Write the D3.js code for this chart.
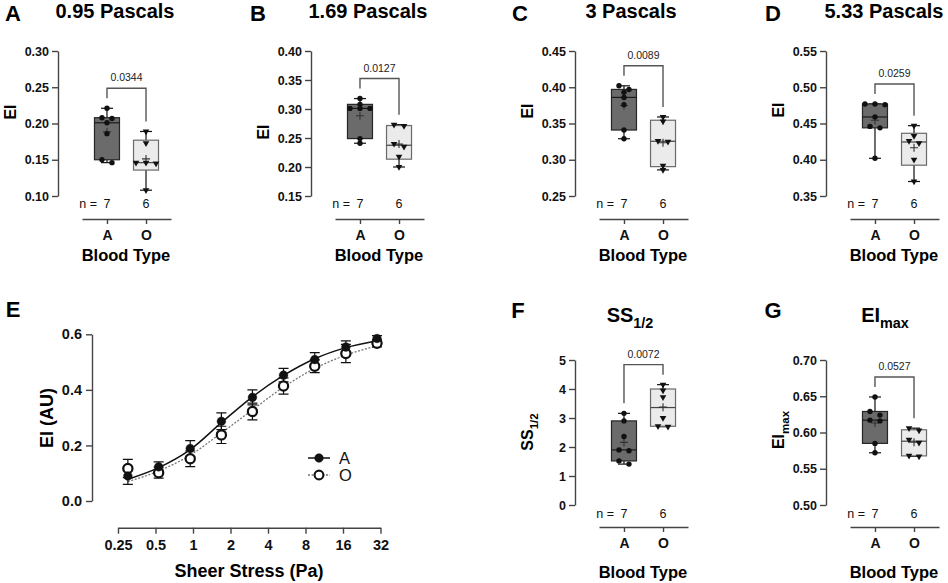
<!DOCTYPE html>
<html>
<head>
<meta charset="utf-8">
<script src="https://cdn.jsdelivr.net/npm/d3@7"></script>
<style>
body { margin: 0; background: #fff; }
svg { display: block; }
</style>
</head>
<body>
<script>
var FONT = "'Liberation Sans', Arial, Helvetica, sans-serif";
var width = 948, height = 583;

var svg = d3.select("body").append("svg")
    .attr("width", width)
    .attr("height", height)
    .attr("font-family", FONT);

// ---- data ----
var groups = ["A", "O"];
var groupN = [7, 6];

var ei095A = [0.221, 0.208, 0.207, 0.201, 0.186, 0.150, 0.146];
var ei095O = [0.189, 0.173, 0.146, 0.146, 0.145, 0.108];
var ei169A = [0.318, 0.308, 0.301, 0.301, 0.301, 0.249, 0.241];
var ei169O = [0.273, 0.271, 0.240, 0.235, 0.218, 0.200];
var ei3A = [0.402, 0.397, 0.393, 0.386, 0.376, 0.341, 0.329];
var ei3O = [0.359, 0.353, 0.326, 0.325, 0.292, 0.286];
var ei533A = [0.477, 0.477, 0.476, 0.459, 0.446, 0.444, 0.402];
var ei533O = [0.447, 0.433, 0.426, 0.423, 0.400, 0.370];
var ssHalfA = [3.16, 2.90, 2.36, 1.90, 1.87, 1.52, 1.41];
var ssHalfO = [4.15, 3.95, 3.72, 3.00, 2.72, 2.70];
var eiMaxA = [0.649, 0.629, 0.624, 0.617, 0.616, 0.585, 0.572];
var eiMaxO = [0.606, 0.603, 0.590, 0.586, 0.568, 0.567];

var pValues = ["0.0344", "0.0127", "0.0089", "0.0259", "0.0072", "0.0527"];

var ticks095 = [0.10, 0.15, 0.20, 0.25, 0.30];
var ticks169 = [0.15, 0.20, 0.25, 0.30, 0.35, 0.40];
var ticks3 = [0.25, 0.30, 0.35, 0.40, 0.45];
var ticks533 = [0.35, 0.40, 0.45, 0.50, 0.55];
var ticksSS = [0, 1, 2, 3, 4, 5];
var ticksMax = [0.50, 0.55, 0.60, 0.65, 0.70];

// panel E: elongation curve, mean +/- error
var shearStress = [0.3, 0.53, 0.95, 1.69, 3.0, 5.33, 9.49, 16.87, 30];
var eiMeanA = [0.090, 0.123, 0.189, 0.287, 0.373, 0.453, 0.509, 0.554, 0.585];
var eiErrA = [0.030, 0.018, 0.028, 0.030, 0.027, 0.024, 0.025, 0.022, 0.010];
var eiMeanO = [0.117, 0.102, 0.152, 0.238, 0.322, 0.414, 0.485, 0.531, 0.568];
var eiErrO = [0.033, 0.020, 0.028, 0.031, 0.030, 0.029, 0.023, 0.033, 0.013];
// fitted curves as they appear in the figure
var eiFitA = [0.078, 0.120, 0.185, 0.282, 0.375, 0.452, 0.512, 0.552, 0.577];
var eiFitO = [0.070, 0.108, 0.165, 0.245, 0.328, 0.410, 0.477, 0.525, 0.558];
var ssTicks = [0.25, 0.5, 1, 2, 4, 8, 16, 32];
var eiTicks = [0, 0.2, 0.4, 0.6];

// ---- layout ----
var topRow = {letterY: 21, titleY: 18, nY: 208, lineY: 219, btY: 261};
var botRow = {letterY: 318, titleY: 322, nY: 518, lineY: 527, btY: 578};

var boxPanels = [
    {letter: "A", letterX: 13, title: [["0.95 Pascals"]], titleX: 115, ylab: [["EI"]], labY: 112,
        ax: 58, y0: 51, y1: 196, domain: [0.10, 0.30], ticks: ticks095, fmt: ".2f",
        a: ei095A, o: ei095O, p: pValues[0], row: topRow},
    {letter: "B", letterX: 258, title: [["1.69 Pascals"]], titleX: 368, ylab: [["EI"]], labY: 132,
        ax: 311, y0: 51, y1: 196, domain: [0.15, 0.40], ticks: ticks169, fmt: ".2f",
        a: ei169A, o: ei169O, p: pValues[1], row: topRow},
    {letter: "C", letterX: 520, title: [["3 Pascals"]], titleX: 631, ylab: [["EI"]], labY: 111,
        ax: 575, y0: 51, y1: 196, domain: [0.25, 0.45], ticks: ticks3, fmt: ".2f",
        a: ei3A, o: ei3O, p: pValues[2], row: topRow},
    {letter: "D", letterX: 773, title: [["5.33 Pascals"]], titleX: 884, ylab: [["EI"]], labY: 110,
        ax: 826, y0: 51, y1: 196, domain: [0.35, 0.55], ticks: ticks533, fmt: ".2f",
        a: ei533A, o: ei533O, p: pValues[3], row: topRow},
    {letter: "F", letterX: 518, title: [["SS"], ["1/2", true]], titleX: 630, ylab: [["SS"], ["1/2", true]], labY: 432,
        ax: 575, y0: 360, y1: 505, domain: [0, 5], ticks: ticksSS, fmt: "d",
        a: ssHalfA, o: ssHalfO, p: pValues[4], row: botRow},
    {letter: "G", letterX: 773, title: [["EI"], ["max", true]], titleX: 885, ylab: [["EI"], ["max", true]], labY: 430,
        ax: 826, y0: 360, y1: 505, domain: [0.50, 0.70], ticks: ticksMax, fmt: ".2f",
        a: eiMaxA, o: eiMaxO, p: pValues[5], row: botRow}
];

function styleAxis(sel, fs) {
    sel.attr("font-family", FONT);
    sel.select(".domain").attr("stroke", "#444").attr("stroke-width", 1.4);
    sel.selectAll(".tick line").attr("stroke", "#444").attr("stroke-width", 1.4);
    sel.selectAll(".tick text")
        .attr("font-size", fs)
        .attr("font-weight", "bold")
        .attr("fill", "#111");
}

function richText(t, parts, size) {
    parts.forEach(function (p) {
        var ts = t.append("tspan").text(p[0]);
        if (p[1]) ts.attr("font-size", size * 0.72).attr("dy", size * 0.3);
    });
}

// GraphPad style quartiles, position (n+1)p
function quartile(sorted, p) {
    var n = sorted.length, pos = (n + 1) * p, lo = Math.floor(pos);
    if (lo < 1) return sorted[0];
    if (lo >= n) return sorted[n - 1];
    return sorted[lo - 1] + (pos - lo) * (sorted[lo] - sorted[lo - 1]);
}

// spread points that sit at nearly the same height
function swarm(vals, y) {
    var pts = vals.map(function (v) { return {v: v, py: y(v)}; })
        .sort(function (a, b) { return a.py - b.py; });
    var bins = [], cur = null;
    pts.forEach(function (p) {
        if (cur && p.py - cur[0].py <= 4) cur.push(p);
        else { cur = [p]; bins.push(cur); }
    });
    bins.forEach(function (b) {
        b.forEach(function (p, i) { p.dx = (i - (b.length - 1) / 2) * 10; });
    });
    return pts;
}

var triangle = d3.symbol().type(d3.symbolTriangle).size(19);

function boxPanel(s) {
    var row = s.row;
    var g = svg.append("g");
    var y = d3.scaleLinear().domain(s.domain).range([s.y1, s.y0]);
    var x = d3.scalePoint().domain(groups).range([s.ax + 24, s.ax + 113]).padding(0.64);

    g.append("g")
        .attr("transform", "translate(" + s.ax + ",0)")
        .call(d3.axisLeft(y).tickValues(s.ticks).tickFormat(d3.format(s.fmt))
            .tickSize(6).tickSizeOuter(0).tickPadding(3))
        .call(styleAxis, 12.5);

    g.append("g")
        .attr("transform", "translate(0," + row.lineY + ")")
        .call(d3.axisBottom(x).tickSize(5).tickSizeOuter(0).tickPadding(6))
        .call(styleAxis, 14);

    var sets = [
        {key: "A", vals: s.a, fill: "#6b6b6b", stroke: "#262626", med: "#1a1a1a", tri: false},
        {key: "O", vals: s.o, fill: "#ebebeb", stroke: "#6a6a6a", med: "#444", tri: true}
    ];

    sets.forEach(function (d) {
        var sorted = d.vals.slice().sort(d3.ascending);
        var q1 = quartile(sorted, 0.25), med = quartile(sorted, 0.5), q3 = quartile(sorted, 0.75);
        var mn = sorted[0], mx = sorted[sorted.length - 1], mean = d3.mean(sorted);
        var cx = x(d.key), bw = 25, cw = 12;
        var bg = g.append("g");

        bg.append("line").attr("x1", cx).attr("x2", cx).attr("y1", y(mn)).attr("y2", y(mx))
            .attr("stroke", "#111").attr("stroke-width", 1.2);
        [mn, mx].forEach(function (v) {
            bg.append("line").attr("x1", cx - cw / 2).attr("x2", cx + cw / 2)
                .attr("y1", y(v)).attr("y2", y(v))
                .attr("stroke", "#111").attr("stroke-width", 1.2);
        });
        bg.append("rect")
            .attr("x", cx - bw / 2).attr("width", bw)
            .attr("y", y(q3)).attr("height", y(q1) - y(q3))
            .attr("fill", d.fill).attr("stroke", d.stroke).attr("stroke-width", 1.2);
        bg.append("line").attr("x1", cx - bw / 2).attr("x2", cx + bw / 2)
            .attr("y1", y(med)).attr("y2", y(med))
            .attr("stroke", d.med).attr("stroke-width", 1.2);
        // mean
        bg.append("path")
            .attr("d", "M" + (cx - 4) + "," + y(mean) + "H" + (cx + 4) +
                "M" + cx + "," + (y(mean) - 4) + "V" + (y(mean) + 4))
            .attr("stroke", "#333").attr("stroke-width", 1.1);

        var pts = swarm(d.vals, y);
        if (d.tri) {
            bg.selectAll("path.pt").data(pts).enter().append("path")
                .attr("class", "pt")
                .attr("d", triangle)
                .attr("transform", function (p) {
                    return "translate(" + (cx + p.dx) + "," + p.py + ") rotate(180)";
                })
                .attr("fill", "#111");
        } else {
            bg.selectAll("circle").data(pts).enter().append("circle")
                .attr("cx", function (p) { return cx + p.dx; })
                .attr("cy", function (p) { return p.py; })
                .attr("r", 2.7)
                .attr("fill", "#111");
        }
    });

    // significance bracket
    var ya = y(d3.max(s.a)), yo = y(d3.max(s.o));
    var yTop = Math.min(ya, yo) - 20;
    g.append("path")
        .attr("d", "M" + x("A") + "," + (ya - 10) + "V" + yTop + "H" + x("O") + "V" + (yo - 10))
        .attr("fill", "none").attr("stroke", "#555").attr("stroke-width", 1.4);
    g.append("text")
        .attr("x", (x("A") + x("O")) / 2).attr("y", yTop - 7)
        .attr("text-anchor", "middle").attr("font-size", 10.5).attr("fill", "#222")
        .text(s.p);

    // n row
    g.append("text").attr("x", x("A") - 10).attr("y", row.nY)
        .attr("text-anchor", "end").attr("font-size", 12.5).attr("fill", "#111").text("n =");
    g.selectAll("text.n").data(groupN).enter().append("text")
        .attr("class", "n")
        .attr("x", function (d, i) { return x(groups[i]); })
        .attr("y", row.nY)
        .attr("text-anchor", "middle").attr("font-size", 12.5).attr("fill", "#111")
        .text(function (d) { return d; });

    // labels
    g.append("text").attr("x", s.letterX).attr("y", row.letterY)
        .attr("text-anchor", "middle").attr("font-size", 22).attr("font-weight", "bold")
        .text(s.letter);
    var t = g.append("text").attr("x", s.titleX).attr("y", row.titleY)
        .attr("text-anchor", "middle").attr("font-size", 20).attr("font-weight", "bold");
    richText(t, s.title, 20);
    var yl = g.append("text")
        .attr("transform", "translate(" + (s.ax - 42) + "," + s.labY + ") rotate(-90)")
        .attr("text-anchor", "middle").attr("font-size", 16).attr("font-weight", "bold");
    richText(yl, s.ylab, 16);
    g.append("text").attr("x", s.ax + 68).attr("y", row.btY)
        .attr("text-anchor", "middle").attr("font-size", 16.5).attr("font-weight", "bold")
        .text("Blood Type");
}

boxPanels.forEach(boxPanel);

// ---- panel E ----
function curvePanel() {
    var g = svg.append("g");
    var x = d3.scaleLog().base(2).domain([0.25, 32]).range([118, 380.5]);
    var y = d3.scaleLinear().domain([0, 0.6]).range([501, 334.3]);

    g.append("g").attr("transform", "translate(92,0)")
        .call(d3.axisLeft(y).tickValues(eiTicks).tickFormat(d3.format(".1f"))
            .tickSize(6).tickSizeOuter(0).tickPadding(4))
        .call(styleAxis, 14.5);
    g.append("g").attr("transform", "translate(0,527.7)")
        .call(d3.axisBottom(x).tickValues(ssTicks).tickFormat(function (d) { return String(d); })
            .tickSize(6).tickSizeOuter(0).tickPadding(6))
        .call(styleAxis, 14.5);

    var series = [
        {name: "A", mean: eiMeanA, err: eiErrA, fit: eiFitA, fill: "#111", stroke: "#111", dash: null, lw: 1.5},
        {name: "O", mean: eiMeanO, err: eiErrO, fit: eiFitO, fill: "#fff", stroke: "#777", dash: "2,1.6", lw: 1.3}
    ];

    var line = d3.line()
        .x(function (d) { return x(d[0]); })
        .y(function (d) { return y(d[1]); })
        .curve(d3.curveMonotoneX);

    series.forEach(function (s) {
        g.append("path")
            .datum(shearStress.map(function (v, i) { return [v, s.fit[i]]; }))
            .attr("d", line)
            .attr("fill", "none").attr("stroke", s.stroke).attr("stroke-width", s.lw)
            .attr("stroke-dasharray", s.dash);
    });

    series.forEach(function (s) {
        var eb = g.append("g");
        shearStress.forEach(function (v, i) {
            var cx = x(v), hi = y(s.mean[i] + s.err[i]), lo = y(s.mean[i] - s.err[i]);
            eb.append("path")
                .attr("d", "M" + cx + "," + hi + "V" + lo +
                    "M" + (cx - 5) + "," + hi + "H" + (cx + 5) +
                    "M" + (cx - 5) + "," + lo + "H" + (cx + 5))
                .attr("fill", "none").attr("stroke", "#111").attr("stroke-width", 1.2);
        });
    });

    // O markers first, A on top
    [series[1], series[0]].forEach(function (s) {
        g.selectAll("circle.m" + s.name).data(shearStress).enter().append("circle")
            .attr("class", "m" + s.name)
            .attr("cx", function (d) { return x(d); })
            .attr("cy", function (d, i) { return y(s.mean[i]); })
            .attr("r", s.name === "A" ? 4.3 : 4.6)
            .attr("fill", s.fill)
            .attr("stroke", "#111")
            .attr("stroke-width", s.name === "A" ? 0.5 : 2.2);
    });

    // legend
    var lg = g.append("g");
    series.forEach(function (s, i) {
        var ly = 458 + i * 17;
        lg.append("line").attr("x1", 308).attr("x2", 330).attr("y1", ly).attr("y2", ly)
            .attr("stroke", s.stroke).attr("stroke-width", s.lw).attr("stroke-dasharray", s.dash);
        lg.append("circle").attr("cx", 319).attr("cy", ly).attr("r", s.name === "A" ? 4.3 : 4.4)
            .attr("fill", s.fill).attr("stroke", "#111").attr("stroke-width", s.name === "A" ? 0.5 : 2.1);
        lg.append("text").attr("x", 339).attr("y", ly + 6).attr("font-size", 16.5).attr("fill", "#111")
            .text(s.name);
    });

    g.append("text").attr("x", 13).attr("y", 317)
        .attr("text-anchor", "middle").attr("font-size", 22).attr("font-weight", "bold").text("E");
    g.append("text")
        .attr("transform", "translate(53,418) rotate(-90)")
        .attr("text-anchor", "middle").attr("font-size", 18).attr("font-weight", "bold")
        .text("EI (AU)");
    g.append("text").attr("x", 249).attr("y", 577)
        .attr("text-anchor", "middle").attr("font-size", 18).attr("font-weight", "bold")
        .text("Sheer Stress (Pa)");
}

curvePanel();
</script>
</body>
</html>
